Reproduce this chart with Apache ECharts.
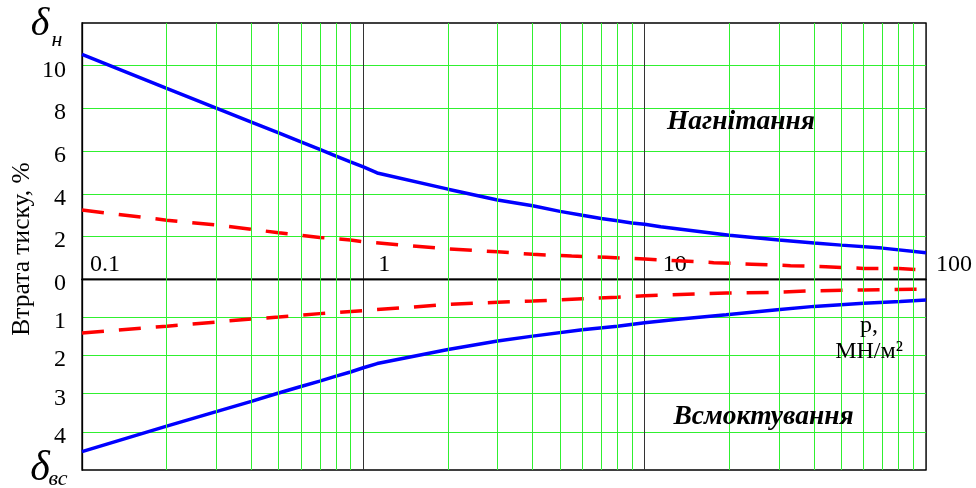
<!DOCTYPE html>
<html>
<head>
<meta charset="utf-8">
<script src="https://cdn.jsdelivr.net/npm/echarts@6/dist/echarts.min.js"></script>
<style>
  html, body { margin: 0; padding: 0; background: #fff; }
  #chart { width: 976px; height: 488px; }
</style>
</head>
<body>
<div id="chart"></div>
<script>
// Pressure p, MN/m2 (log scale) and pressure loss, %
const xTickLabels = ['0.1', '1', '10', '100'];
const upperTickLabels = ['0', '2', '4', '6', '8', '10'];
const lowerTickLabels = ['1', '2', '3', '4'];

// Discharge (нагнітання), solid curve
const pDischargeSolid = [0.1, 0.2, 0.3, 0.4, 0.5, 0.6, 0.7, 0.8, 0.9, 1, 1.12, 2, 3, 4, 5, 6, 7, 8, 9, 10, 11.4, 20, 30, 40, 50, 70, 100];
const lossDischargeSolid = [10.53, 8.94, 8.02, 7.36, 6.85, 6.43, 6.08, 5.77, 5.5, 5.26, 4.98, 4.22, 3.71, 3.44, 3.18, 3.0, 2.85, 2.74, 2.64, 2.58, 2.46, 2.06, 1.84, 1.7, 1.6, 1.46, 1.24];

// Discharge, dashed curve
const pDischargeDashed = [0.1, 0.2, 0.3, 0.4, 0.5, 0.7, 0.9, 1, 2, 3, 4, 5.5, 7.3, 10, 17.6, 24, 33, 44, 60, 80, 100];
const lossDischargeDashed = [3.24, 2.77, 2.54, 2.34, 2.18, 1.96, 1.84, 1.76, 1.42, 1.29, 1.17, 1.09, 1.03, 0.95, 0.78, 0.71, 0.64, 0.59, 0.51, 0.5, 0.43];

// Suction (всмоктування), solid curve
const pSuctionSolid = [0.1, 0.2, 0.3, 0.4, 0.5, 0.6, 0.7, 0.8, 0.9, 1, 1.12, 2, 3, 4, 6, 8, 10, 13.4, 19.5, 29.6, 40, 60, 81, 100];
const lossSuctionSolid = [4.52, 3.85, 3.47, 3.2, 2.98, 2.81, 2.67, 2.54, 2.43, 2.32, 2.21, 1.84, 1.62, 1.49, 1.32, 1.23, 1.14, 1.04, 0.93, 0.8, 0.71, 0.63, 0.58, 0.54];

// Suction, dashed curve
const pSuctionDashed = [0.1, 0.2, 0.3, 0.4, 0.5, 0.7, 1, 2, 3, 4, 6, 8, 10, 19.5, 29.6, 40, 60, 90, 100];
const lossSuctionDashed = [1.41, 1.23, 1.12, 1.04, 0.99, 0.9, 0.82, 0.66, 0.6, 0.57, 0.51, 0.47, 0.43, 0.36, 0.34, 0.3, 0.28, 0.26, 0.26];

const zip = (xs, ys) => xs.map((x, i) => [x, ys[i]]);

// Minor log grid lines: 2..9 within each decade
const minorLines = [];
[0.1, 1, 10].forEach(d => { for (let k = 2; k <= 9; k++) minorLines.push(+(k * d).toPrecision(3)); });

const SERIF = '"Liberation Serif", "DejaVu Serif", serif';
const GREEN = '#30f030';
const DECADE = '#333333';

const gridLeft = 82, gridRight = 50, gridTop = 23, zeroY = 279.3, gridBottomY = 470;

function logXAxis(gridIndex, withLabels) {
  const labelPad = [8, 15, 18, 10];
  const rich = {};
  labelPad.forEach((p, i) => {
    rich['t' + i] = { padding: [0, 0, 0, p], fontFamily: SERIF, fontSize: 24, color: '#000' };
  });
  return {
    type: 'log', logBase: 10, min: 0.1, max: 100, gridIndex,
    position: withLabels ? 'bottom' : 'top',
    axisLine: { show: true, onZero: false, lineStyle: { color: '#000', width: 1.3 } },
    axisTick: { show: false },
    axisLabel: withLabels ? {
      show: true, inside: true, margin: 3, fontFamily: SERIF, fontSize: 24, color: '#000',
      align: 'left',
      formatter: function (v) {
        const idx = Math.round(Math.log10(v)) + 1;
        return '{t' + idx + '|' + xTickLabels[idx] + '}';
      },
      rich
    } : { show: false },
    splitLine: { show: true, lineStyle: { color: DECADE, width: 1 } }
  };
}

function minorSeries(gridIndex) {
  return {
    type: 'line', xAxisIndex: gridIndex, yAxisIndex: gridIndex, data: [], z: 1, silent: true,
    markLine: {
      silent: true, symbol: ['none', 'none'], animation: false,
      label: { show: false },
      lineStyle: { color: GREEN, type: 'solid', width: 1 },
      data: minorLines.map(v => ({ xAxis: v }))
    }
  };
}

function curve(gridIndex, xs, ys, color, dashed) {
  return {
    type: 'line', xAxisIndex: gridIndex, yAxisIndex: gridIndex, z: 3,
    data: zip(xs, ys), showSymbol: false, symbol: 'none', smooth: false,
    lineStyle: { color, width: 3.5, type: dashed ? [22, 15] : 'solid' },
    animation: false
  };
}

// Value labels sit a few pixels below their grid lines
const valueLabel = {
  margin: 16, fontFamily: SERIF, fontSize: 24, color: '#000',
  rich: { v: { padding: [9, 0, 0, 0], fontFamily: SERIF, fontSize: 24, color: '#000' } }
};

const chart = echarts.init(document.getElementById('chart'), null, { renderer: 'canvas' });
chart.setOption({
  backgroundColor: '#fff',
  animation: false,
  grid: [
    { left: gridLeft, right: gridRight, top: gridTop, height: zeroY - gridTop,
      show: true, borderColor: '#000', borderWidth: 1.3, backgroundColor: 'transparent' },
    { left: gridLeft, right: gridRight, top: zeroY, height: gridBottomY - zeroY,
      show: true, borderColor: '#000', borderWidth: 1.3, backgroundColor: 'transparent' }
  ],
  xAxis: [logXAxis(0, true), logXAxis(1, false)],
  yAxis: [
    {
      type: 'value', gridIndex: 0, min: 0, max: 12, interval: 2,
      axisLine: { show: true, lineStyle: { color: '#000', width: 1.3 } },
      axisTick: { show: false },
      axisLabel: Object.assign({}, valueLabel, {
        showMaxLabel: false,
        formatter: v => upperTickLabels[v / 2] ? '{v|' + upperTickLabels[v / 2] + '}' : ''
      }),
      splitLine: { show: true, showMinLine: false, showMaxLine: false, lineStyle: { color: GREEN, width: 1 } }
    },
    {
      type: 'value', gridIndex: 1, min: 0, max: 5, interval: 1, inverse: true,
      axisLine: { show: true, lineStyle: { color: '#000', width: 1.3 } },
      axisTick: { show: false },
      axisLabel: Object.assign({}, valueLabel, {
        showMinLabel: false, showMaxLabel: false,
        formatter: v => lowerTickLabels[v - 1] ? '{v|' + lowerTickLabels[v - 1] + '}' : ''
      }),
      splitLine: { show: true, showMinLine: false, showMaxLine: false, lineStyle: { color: GREEN, width: 1 } }
    }
  ],
  series: [
    minorSeries(0),
    minorSeries(1),
    curve(0, pDischargeSolid, lossDischargeSolid, '#0000ff', false),
    curve(0, pDischargeDashed, lossDischargeDashed, '#ff0000', true),
    curve(1, pSuctionSolid, lossSuctionSolid, '#0000ff', false),
    curve(1, pSuctionDashed, lossSuctionDashed, '#ff0000', true)
  ],
  graphic: [
    { type: 'text', x: 22, y: 249, rotation: Math.PI / 2,
      style: { text: 'Втрата тиску, %', fontFamily: SERIF, fontSize: 25.5, fill: '#000', align: 'center', verticalAlign: 'middle' } },
    { type: 'text', x: 40, y: 24,
      style: { text: 'δ', fontFamily: SERIF, fontStyle: 'italic', fontSize: 40, fill: '#000', align: 'center', verticalAlign: 'middle' } },
    { type: 'text', x: 57, y: 40,
      style: { text: 'н', fontFamily: SERIF, fontStyle: 'italic', fontSize: 22, fill: '#000', align: 'center', verticalAlign: 'middle' } },
    { type: 'text', x: 40, y: 469,
      style: { text: 'δ', fontFamily: SERIF, fontStyle: 'italic', fontSize: 42, fill: '#000', align: 'center', verticalAlign: 'middle' } },
    { type: 'text', x: 58, y: 479,
      style: { text: 'вс', fontFamily: SERIF, fontStyle: 'italic', fontSize: 22, fill: '#000', align: 'center', verticalAlign: 'middle' } },
    { type: 'text', x: 741, y: 122, z: 10,
      style: { text: 'Нагнітання', fontFamily: SERIF, fontStyle: 'italic', fontWeight: 'bold', fontSize: 27.5, fill: '#000', align: 'center', verticalAlign: 'middle' } },
    { type: 'text', x: 763.5, y: 417, z: 10,
      style: { text: 'Всмоктування', fontFamily: SERIF, fontStyle: 'italic', fontWeight: 'bold', fontSize: 27.5, fill: '#000', align: 'center', verticalAlign: 'middle' } },
    { type: 'text', x: 869, y: 326, z: 10,
      style: { text: 'p,', fontFamily: SERIF, fontSize: 24, fill: '#000', align: 'center', verticalAlign: 'middle' } },
    { type: 'text', x: 869, y: 352, z: 10,
      style: { text: 'МН/м²', fontFamily: SERIF, fontSize: 24, fill: '#000', align: 'center', verticalAlign: 'middle' } }
  ]
});
</script>
</body>
</html>
